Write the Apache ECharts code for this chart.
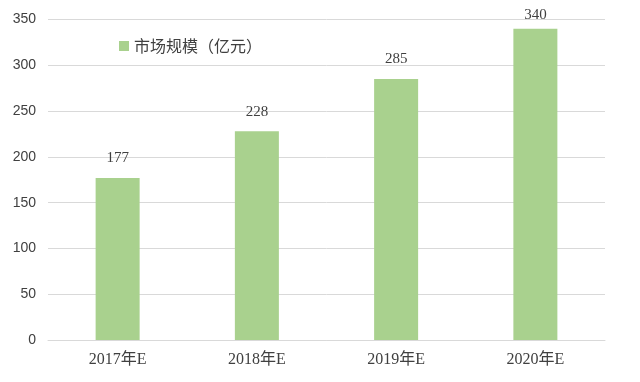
<!DOCTYPE html>
<html>
<head>
<meta charset="utf-8">
<script src="https://cdn.jsdelivr.net/npm/echarts@6/dist/echarts.min.js"></script>
<style>html,body{margin:0;padding:0;background:#fff}#c{width:640px;height:382px}</style>
</head>
<body>
<div id="c"></div>
<script>
var categories = ['2017年E', '2018年E', '2019年E', '2020年E'];
var marketSize = [177, 228, 285, 340];
var seriesName = '市场规模（亿元）';
var yTicks = {min: 0, max: 350, interval: 50};

var barData = marketSize.map(function (v, i) {
  var item = {value: v};
  if (i === marketSize.length - 1) item.label = {distance: 6};
  return item;
});

var chart = echarts.init(document.getElementById('c'), null, {renderer: 'canvas'});
chart.setOption({
  animation: false,
  backgroundColor: '#ffffff',
  grid: {left: 48, right: 35, top: 19.5, bottom: 42},
  legend: {
    data: [seriesName],
    left: 114, top: 33,
    icon: 'rect', itemWidth: 10, itemHeight: 10, itemGap: 6,
    textStyle: {fontFamily: 'Noto Sans CJK SC', fontSize: 16, color: '#404040'}
  },
  xAxis: {
    type: 'category',
    data: categories,
    axisLine: {lineStyle: {color: '#d9d9d9', width: 1}},
    axisTick: {show: false},
    axisLabel: {fontFamily: 'Liberation Serif, Noto Sans CJK SC', fontSize: 16, color: '#404040', margin: 12}
  },
  yAxis: {
    type: 'value',
    min: yTicks.min, max: yTicks.max, interval: yTicks.interval,
    axisLine: {show: false},
    axisTick: {show: false},
    splitLine: {lineStyle: {color: '#d9d9d9', width: 1}},
    axisLabel: {fontFamily: 'Liberation Sans', fontSize: 14, color: '#404040', margin: 12}
  },
  series: [{
    name: seriesName,
    type: 'bar',
    data: barData,
    barWidth: '31.6%',
    itemStyle: {color: '#a9d18e'},
    label: {show: true, position: 'top', distance: 12,
      fontFamily: 'Liberation Serif', fontSize: 15, color: '#404040'}
  }]
});
</script>
</body>
</html>
